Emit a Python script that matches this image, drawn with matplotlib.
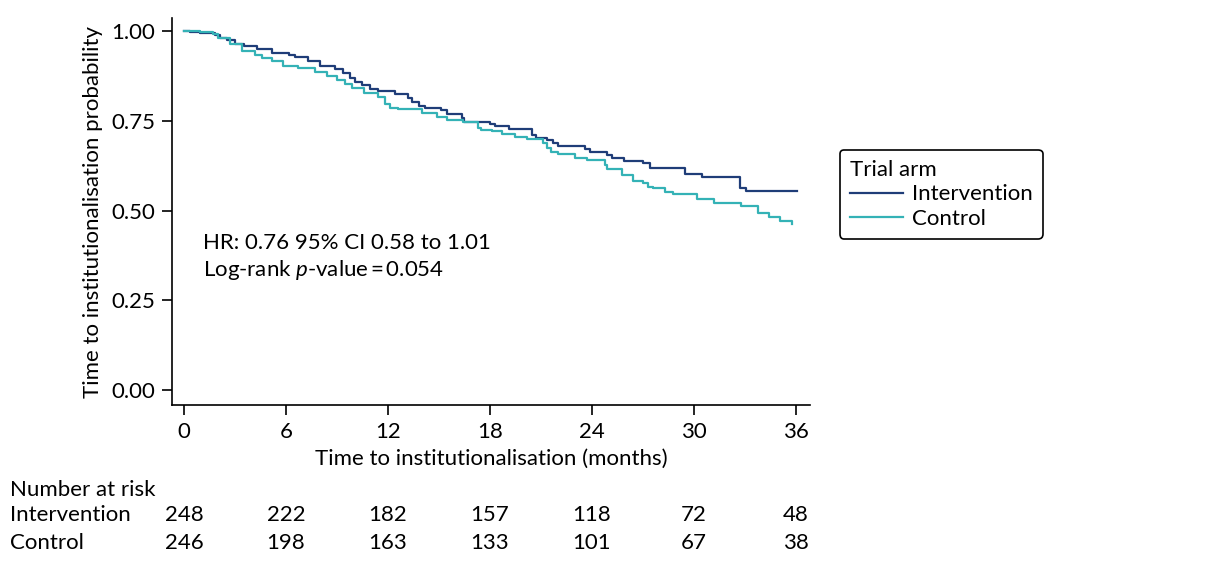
import matplotlib
matplotlib.use("Agg")
import matplotlib.pyplot as plt
from matplotlib.transforms import blended_transform_factory

plt.rcParams['font.family'] = ['Lato', 'DejaVu Sans']
plt.rcParams['mathtext.fontset'] = 'custom'
plt.rcParams['mathtext.it'] = 'Lato:italic'
plt.rcParams['mathtext.rm'] = 'Lato'

# Kaplan-Meier step data
int_t = [0, 0.35, 0.95, 1.8, 2.1, 2.5, 3.0, 3.5, 4.3, 5.2, 6.2, 6.5, 7.3, 8.0, 8.9,
         9.35, 9.76, 10.06, 10.47, 10.94, 11.4, 12.4, 13.2, 13.4, 13.8, 14.2, 15.1,
         15.5, 16.35, 16.5, 18.0, 18.3, 19.1, 20.5, 20.7, 21.35, 21.7, 22.0, 23.6,
         23.9, 24.9, 25.2, 25.9, 27.0, 27.4, 29.5, 30.5, 32.7, 33.1, 36.1]
int_s = [1.0, 0.996, 0.994, 0.989, 0.981, 0.975, 0.963, 0.958, 0.95, 0.938, 0.933,
         0.927, 0.915, 0.902, 0.894, 0.883, 0.869, 0.859, 0.85, 0.838, 0.833, 0.824,
         0.812, 0.802, 0.792, 0.786, 0.78, 0.769, 0.758, 0.747, 0.741, 0.735, 0.726,
         0.71, 0.701, 0.696, 0.689, 0.68, 0.671, 0.664, 0.655, 0.647, 0.638, 0.631,
         0.618, 0.602, 0.592, 0.563, 0.555, 0.555]

ctl_t = [0, 0.94, 1.7, 2.0, 2.7, 3.4, 4.2, 4.6, 5.2, 5.8, 6.7, 7.7, 8.4, 9.0, 9.5,
         9.9, 10.6, 11.4, 11.8, 12.1, 12.6, 14.0, 14.9, 15.5, 16.4, 17.3, 17.5, 18.1,
         18.7, 19.5, 20.2, 21.1, 21.35, 21.6, 22.0, 23.0, 23.7, 24.8, 24.9, 25.8, 26.4,
         27.0, 27.3, 27.6, 28.3, 28.8, 30.2, 31.2, 32.8, 33.8, 34.4, 35.1, 35.8]
ctl_s = [1.0, 0.996, 0.991, 0.98, 0.964, 0.944, 0.933, 0.924, 0.915, 0.903, 0.896,
         0.887, 0.875, 0.863, 0.851, 0.84, 0.826, 0.815, 0.796, 0.786, 0.782, 0.771,
         0.761, 0.752, 0.746, 0.729, 0.724, 0.72, 0.713, 0.706, 0.698, 0.687, 0.673,
         0.664, 0.657, 0.647, 0.641, 0.627, 0.616, 0.599, 0.582, 0.576, 0.566, 0.562,
         0.552, 0.546, 0.531, 0.522, 0.513, 0.494, 0.483, 0.472, 0.462]

risk_times = [0, 6, 12, 18, 24, 30, 36]
risk_int = [248, 222, 182, 157, 118, 72, 48]
risk_ctl = [246, 198, 163, 133, 101, 67, 38]
yticks = [0.00, 0.25, 0.50, 0.75, 1.00]

col_int = '#1f3d78'
col_ctl = '#34b2b6'
fs = 16

fig = plt.figure(figsize=(12.12, 5.62), dpi=100)
ax = fig.add_axes([0.142, 0.279, 0.526, 0.689])

ax.step(int_t, int_s, where='post', color=col_int, lw=1.6, label='Intervention')
ax.step(ctl_t, ctl_s, where='post', color=col_ctl, lw=1.6, label='Control')

ax.set_xlim(-0.706, 36.82)
ax.set_ylim(-0.042, 1.036)
ax.set_xticks(risk_times)
ax.set_yticks(yticks)
ax.set_yticklabels([f'{v:.2f}' for v in yticks])
for s in ['top', 'right']:
    ax.spines[s].set_visible(False)
for s in ['left', 'bottom']:
    ax.spines[s].set_linewidth(1.2)
ax.tick_params(axis='both', labelsize=fs, length=7, width=1.2, direction='out', pad=5)

ax.set_xlabel('Time to institutionalisation (months)', fontsize=fs, labelpad=5)
ax.set_ylabel('Time to institutionalisation probability', fontsize=fs, labelpad=6)

ax.text(1.12, 0.41, 'HR: 0.76 95% CI 0.58 to 1.01', fontsize=fs, va='center', ha='left')
ax.text(1.12, 0.334, 'Log-rank $p$-value\u2009=\u20090.054', fontsize=fs, va='center', ha='left')

leg = fig.legend(loc='upper left', bbox_to_anchor=(0.693, 0.733), title='Trial arm',
                 fontsize=fs, title_fontsize=fs, frameon=True, fancybox=True,
                 edgecolor='black', handlelength=2.4, handletextpad=0.4,
                 borderpad=0.45, labelspacing=0.2, borderaxespad=0)
leg._legend_box.align = 'left'
leg.get_frame().set_linewidth(1.2)
leg.get_frame().set_alpha(1)

tr = blended_transform_factory(ax.transData, fig.transFigure)
fig.text(0.008, 0.128, 'Number at risk', fontsize=fs, va='center', ha='left')
fig.text(0.008, 0.084, 'Intervention', fontsize=fs, va='center', ha='left')
fig.text(0.008, 0.034, 'Control', fontsize=fs, va='center', ha='left')
for t, a, b in zip(risk_times, risk_int, risk_ctl):
    ax.text(t, 0.084, str(a), transform=tr, fontsize=fs, va='center', ha='center', clip_on=False)
    ax.text(t, 0.034, str(b), transform=tr, fontsize=fs, va='center', ha='center', clip_on=False)

fig.savefig('out.png', dpi=100)
